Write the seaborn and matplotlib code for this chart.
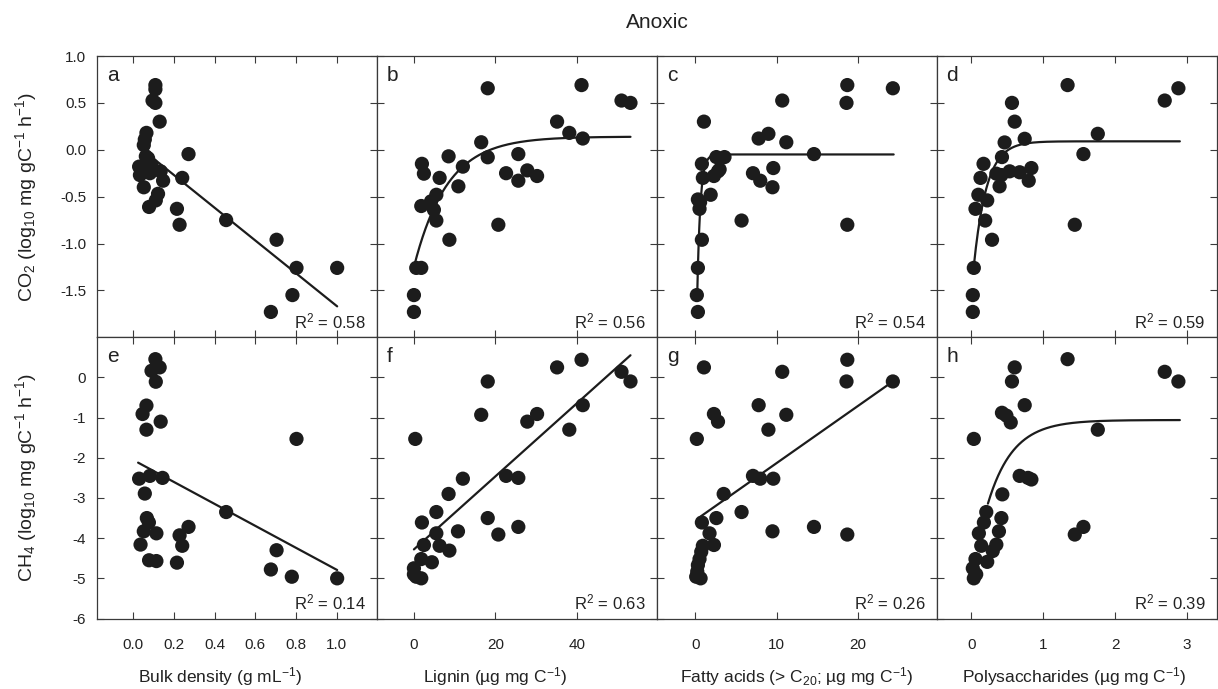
import numpy as np
import matplotlib
matplotlib.use("Agg")
import matplotlib.pyplot as plt
import seaborn as sns

# ---- measured data -------------------------------------------------------
# CO2 row (log10 mg gC-1 h-1)
bd_a = [0.109, 0.109, 0.095, 0.109, 0.13, 0.065, 0.057, 0.052, 0.272, 0.062,
        0.073, 0.029, 0.065, 0.033, 0.082, 0.135, 0.147, 0.241, 0.052, 0.122,
        0.111, 0.078, 0.215, 0.228, 0.457, 0.705, 0.803, 1.003, 0.783, 0.677,
        0.045, 0.09, 0.078]
co2_a = [0.69, 0.645, 0.525, 0.50, 0.30, 0.18, 0.11, 0.05, -0.046, -0.07,
         -0.09, -0.18, -0.18, -0.27, -0.25, -0.23, -0.33, -0.30, -0.40, -0.47,
         -0.54, -0.61, -0.63, -0.80, -0.75, -0.96, -1.26, -1.26, -1.55, -1.73,
         -0.22, -0.16, -0.15]

lig_b = [18.1, 41.1, 50.9, 53.1, 35.1, 38.1, 41.4, 16.5, 18.1, 25.6, 1.96,
         2.45, 8.5, 12.0, 6.3, 10.9, 22.6, 25.6, 27.8, 30.2, 5.5, 4.2, 1.8,
         4.9, 5.5, 20.7, 8.7, 0.57, 1.8, 0.0, 0.0]
co2_b = [0.656, 0.69, 0.525, 0.50, 0.30, 0.18, 0.12, 0.08, -0.08, -0.046,
         -0.15, -0.255, -0.07, -0.18, -0.30, -0.39, -0.25, -0.33, -0.22, -0.28,
         -0.48, -0.55, -0.60, -0.64, -0.755, -0.80, -0.96, -1.26, -1.26, -1.55,
         -1.73]

fa_c = [18.7, 24.3, 18.6, 10.7, 1.07, 9.0, 7.8, 11.2, 14.6, 2.6, 3.6, 0.82,
        2.8, 2.3, 0.94, 9.6, 7.1, 8.0, 9.5, 1.9, 0.33, 0.53, 5.7, 18.7, 0.82,
        0.33, 0.2, 0.33, 3.0, 0.6]
co2_c = [0.69, 0.656, 0.50, 0.525, 0.30, 0.17, 0.12, 0.08, -0.046, -0.078,
         -0.078, -0.15, -0.23, -0.28, -0.30, -0.195, -0.25, -0.33, -0.40,
         -0.48, -0.53, -0.63, -0.755, -0.80, -0.96, -1.26, -1.55, -1.73, -0.21,
         -0.56]

ps_d = [1.34, 2.88, 2.69, 0.567, 0.605, 1.76, 0.744, 0.465, 1.56, 0.428, 0.172,
        0.837, 0.13, 0.35, 0.535, 0.674, 0.80, 0.395, 0.10, 0.223, 0.06, 0.195,
        1.44, 0.29, 0.037, 0.023, 0.023, 0.42]
co2_d = [0.69, 0.656, 0.525, 0.50, 0.30, 0.17, 0.117, 0.078, -0.046, -0.078,
         -0.15, -0.195, -0.30, -0.255, -0.23, -0.24, -0.33, -0.39, -0.48, -0.54,
         -0.63, -0.755, -0.80, -0.96, -1.26, -1.55, -1.73, -0.27]

# CH4 row (log10 mg gC-1 h-1)
bd_e = [0.109, 0.13, 0.09, 0.111, 0.065, 0.046, 0.135, 0.065, 0.803, 0.029,
        0.082, 0.144, 0.057, 0.457, 0.067, 0.077, 0.052, 0.114, 0.272, 0.228,
        0.241, 0.036, 0.078, 0.114, 0.215, 0.705, 0.677, 0.78, 1.003]
ch4_e = [0.455, 0.25, 0.165, -0.107, -0.70, -0.91, -1.10, -1.30, -1.53, -2.52,
         -2.45, -2.50, -2.89, -3.35, -3.50, -3.61, -3.83, -3.88, -3.72, -3.93,
         -4.19, -4.16, -4.55, -4.57, -4.61, -4.30, -4.78, -4.96, -5.0]

lig_f = [41.1, 35.1, 50.9, 53.1, 18.1, 16.5, 41.4, 27.8, 30.2, 38.1, 0.33,
         12.0, 22.6, 25.6, 8.5, 5.5, 1.96, 18.1, 25.6, 20.7, 10.8, 5.5, 2.45,
         6.3, 8.7, 1.8, 4.4, 0.0, 0.57, 1.8, 0.0]
ch4_f = [0.44, 0.25, 0.14, -0.10, -0.10, -0.93, -0.69, -1.10, -0.91, -1.30,
         -1.53, -2.52, -2.45, -2.50, -2.90, -3.35, -3.61, -3.50, -3.72, -3.91,
         -3.83, -3.88, -4.17, -4.19, -4.31, -4.52, -4.60, -4.75, -4.96, -5.0,
         -4.9]

fa_g = [18.7, 1.07, 10.7, 18.6, 24.3, 7.8, 2.3, 11.2, 2.8, 9.0, 0.2, 7.1, 8.0,
        9.6, 3.5, 5.7, 2.6, 0.82, 9.5, 14.6, 18.7, 1.76, 2.3, 0.94, 0.74, 0.53,
        0.33, 0.25, 0.66, 0.12]
ch4_g = [0.44, 0.25, 0.14, -0.10, -0.10, -0.69, -0.91, -0.93, -1.10, -1.30,
         -1.53, -2.45, -2.52, -2.52, -2.90, -3.35, -3.50, -3.61, -3.83, -3.72,
         -3.91, -3.88, -4.17, -4.19, -4.34, -4.52, -4.67, -4.83, -5.0, -4.96]

ps_h = [1.34, 0.605, 2.69, 2.88, 0.567, 0.744, 0.428, 0.49, 0.55, 1.76, 0.037,
        0.674, 0.837, 0.79, 0.433, 0.21, 0.42, 0.177, 0.386, 0.107, 1.56, 1.44,
        0.14, 0.35, 0.30, 0.06, 0.223, 0.023, 0.037, 0.07]
ch4_h = [0.455, 0.25, 0.14, -0.10, -0.10, -0.69, -0.88, -0.95, -1.12, -1.30,
         -1.53, -2.45, -2.54, -2.50, -2.91, -3.35, -3.50, -3.61, -3.83, -3.88,
         -3.72, -3.91, -4.19, -4.16, -4.32, -4.52, -4.59, -4.75, -5.0, -4.9]

# ---- fitted models ---------------------------------------------------------
# linear: y = c0 + c1 * x ; saturating: y = y0 + amp * (1 - exp(-k * x))
fit_a = dict(kind="lin", c0=0.08, c1=-1.745, xr=(0.05, 1.003))
fit_b = dict(kind="exp", y0=-1.25, amp=1.39, k=0.1225, xr=(0.0, 53.1))
fit_c = dict(kind="exp", y0=-2.88, amp=2.83, k=2.58, xr=(0.25, 24.4))
fit_d = dict(kind="exp", y0=-1.546, amp=1.636, k=5.6, xr=(0.037, 2.9))
fit_e = dict(kind="lin", c0=-2.055, c1=-2.73, xr=(0.024, 1.003))
fit_f = dict(kind="lin", c0=-4.28, c1=0.091, xr=(0.0, 53.1))
fit_g = dict(kind="lin", c0=-3.555, c1=0.1422, xr=(0.74, 24.3))
fit_h = dict(kind="exp", y0=-5.11, amp=4.05, k=2.86, xr=(0.233, 2.9))

r2_values = ["0.58", "0.56", "0.54", "0.59", "0.14", "0.63", "0.26", "0.39"]
panel_letters = ["a", "b", "c", "d", "e", "f", "g", "h"]

x_labels = ["Bulk density (g mL$^{-1}$)",
            "Lignin (\u00b5g mg C$^{-1}$)",
            "Fatty acids (> C$_{20}$; \u00b5g mg C$^{-1}$)",
            "Polysaccharides (\u00b5g mg C$^{-1}$)"]
y_labels = ["CO$_2$ (log$_{10}$ mg gC$^{-1}$ h$^{-1}$)",
            "CH$_4$ (log$_{10}$ mg gC$^{-1}$ h$^{-1}$)"]
title = "Anoxic"

x_ticks = [[0.0, 0.2, 0.4, 0.6, 0.8, 1.0], [0, 20, 40], [0, 10, 20], [0, 1, 2, 3]]
x_fmt = ["{:.1f}", "{:d}", "{:d}", "{:d}"]
x_lims = [(-0.176, 1.2), (-9.0, 59.6), (-4.7, 29.7), (-0.478, 3.41)]
y_ticks = [[-1.5, -1.0, -0.5, 0.0, 0.5, 1.0], [-6, -5, -4, -3, -2, -1, 0]]
y_fmt = ["{:.1f}", "{:d}"]
y_lims = [(-2.0, 1.0), (-6.0, 1.0)]

# ---- style -----------------------------------------------------------------
sns.set_theme(style="ticks")
plt.rcParams["font.family"] = ["Liberation Sans", "DejaVu Sans"]
plt.rcParams["mathtext.fontset"] = "custom"
plt.rcParams["mathtext.rm"] = "Liberation Sans"
plt.rcParams["mathtext.it"] = "Liberation Sans:italic"
plt.rcParams["mathtext.default"] = "regular"
plt.rcParams["axes.unicode_minus"] = False

ink = "#1c1c1c"
spine_col = "#3a3a3a"

fig, axes = plt.subplots(2, 4, figsize=(12.18, 6.89), dpi=100)
fig.subplots_adjust(left=0.0800, right=0.9988, top=0.9187, bottom=0.1023,
                    wspace=0.0, hspace=0.0)

panels = [
    (bd_a, co2_a, fit_a), (lig_b, co2_b, fit_b), (fa_c, co2_c, fit_c), (ps_d, co2_d, fit_d),
    (bd_e, ch4_e, fit_e), (lig_f, ch4_f, fit_f), (fa_g, ch4_g, fit_g), (ps_h, ch4_h, fit_h),
]


def model_curve(fit):
    xs = np.linspace(fit["xr"][0], fit["xr"][1], 300)
    if fit["kind"] == "lin":
        ys = fit["c0"] + fit["c1"] * xs
    else:
        ys = fit["y0"] + fit["amp"] * (1.0 - np.exp(-fit["k"] * xs))
    return xs, ys


x_label_pos = [0.438, 0.42, 0.5, 0.49]

for i, (ax, (xv, yv, fit)) in enumerate(zip(axes.flat, panels)):
    row, col = divmod(i, 4)
    xs, ys = model_curve(fit)
    sns.lineplot(x=xs, y=ys, ax=ax, color=ink, linewidth=1.6, sort=False,
                 estimator=None, zorder=2)
    sns.scatterplot(x=xv, y=yv, ax=ax, s=105, color=ink, edgecolor="none",
                    linewidth=0, zorder=3)

    ax.set_xlim(*x_lims[col])
    ax.set_ylim(*y_lims[row])
    ax.set_xticks(x_ticks[col])
    ax.set_yticks(y_ticks[row])
    ax.tick_params(direction="in", length=5, width=0.8, color=spine_col,
                   top=True, right=True, labelsize=11, labelcolor="#222222")
    ax.tick_params(axis="x", pad=14)
    ax.tick_params(axis="y", pad=8)
    for s in ax.spines.values():
        s.set_visible(True)
        s.set_linewidth(0.9)
        s.set_color(spine_col)

    if row == 1:
        ax.set_xticklabels([x_fmt[col].format(t) for t in x_ticks[col]])
        ax.set_xlabel(x_labels[col], fontsize=12.5, color="#222222")
        ax.xaxis.set_label_coords(x_label_pos[col], -0.165)
    else:
        ax.set_xticklabels([])
    if col == 0:
        ax.set_yticklabels([y_fmt[row].format(t) for t in y_ticks[row]])
        ax.set_ylabel(y_labels[row], fontsize=14, color="#222222")
        ax.yaxis.set_label_coords(-0.21, 0.5)
    else:
        ax.set_yticklabels([])

    ax.text(0.035, 0.965, panel_letters[i], transform=ax.transAxes,
            ha="left", va="top", fontsize=15, color="#222222")
    ax.text(0.96, 0.032, "R$^2$ = " + r2_values[i], transform=ax.transAxes,
            ha="right", va="baseline", fontsize=12, color="#222222")

fig.text((0.0800 + 0.9988) / 2, 1 - 22 / 689, title, ha="center", va="center",
         fontsize=15, color="#222222")

fig.savefig("out.png", dpi=100)
